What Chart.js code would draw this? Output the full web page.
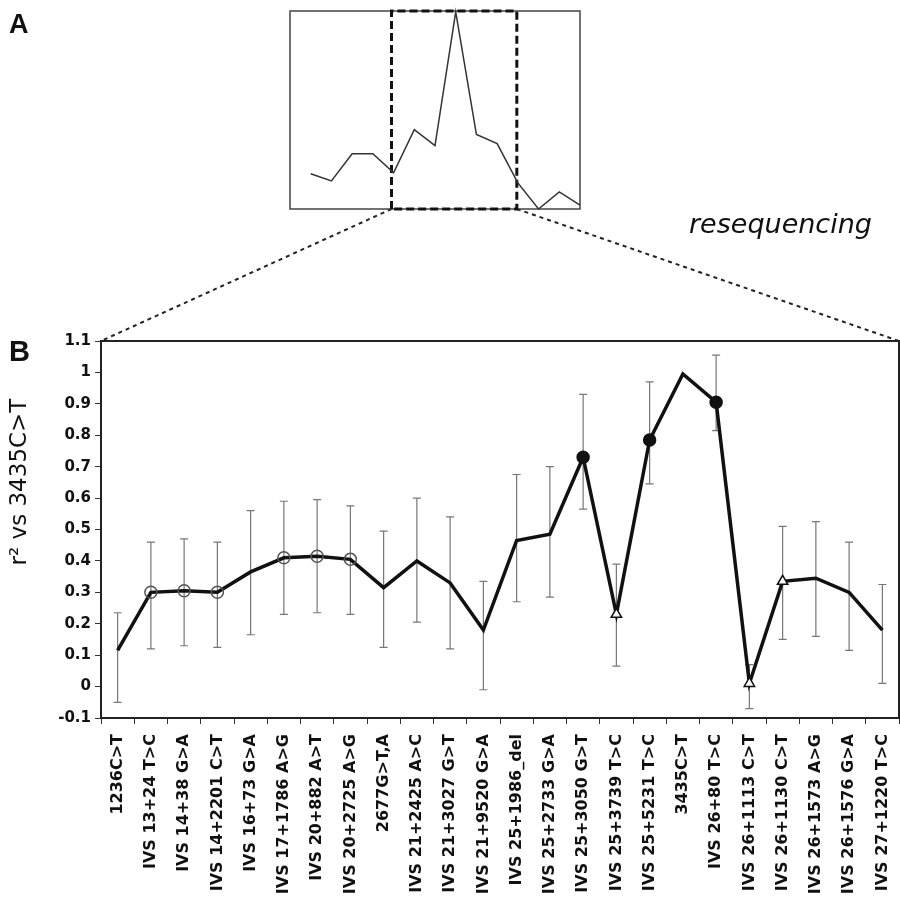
<!DOCTYPE html>
<html>
<head>
<meta charset="utf-8">
<script src="https://cdn.jsdelivr.net/npm/chart.js@4.4.1/dist/chart.umd.min.js"></script>
<style>
  body { margin: 0; background: #fff; overflow: hidden; }
  #wrap { position: relative; width: 900px; height: 897px; }
  #main { position: absolute; left: 0; top: 0; }
  #inset { position: absolute; left: 286px; top: 7px; }
</style>
</head>
<body>
<div id="wrap">
  <canvas id="main" width="900" height="897"></canvas>
  <canvas id="inset" width="298" height="206"></canvas>
</div>
<script>
// panel B: markers along the region
const labels = ['1236C>T', 'IVS 13+24 T>C', 'IVS 14+38 G>A', 'IVS 14+2201 C>T', 'IVS 16+73 G>A',
  'IVS 17+1786 A>G', 'IVS 20+882 A>T', 'IVS 20+2725 A>G', '2677G>T,A', 'IVS 21+2425 A>C',
  'IVS 21+3027 G>T', 'IVS 21+9520 G>A', 'IVS 25+1986_del', 'IVS 25+2733 G>A', 'IVS 25+3050 G>T',
  'IVS 25+3739 T>C', 'IVS 25+5231 T>C', '3435C>T', 'IVS 26+80 T>C', 'IVS 26+1113 C>T',
  'IVS 26+1130 C>T', 'IVS 26+1573 A>G', 'IVS 26+1576 G>A', 'IVS 27+1220 T>C'];
const r2 = [0.115, 0.30, 0.305, 0.30, 0.365, 0.41, 0.415, 0.405, 0.315, 0.40, 0.33, 0.18,
  0.465, 0.485, 0.73, 0.23, 0.785, 0.995, 0.905, 0.01, 0.335, 0.345, 0.30, 0.18];
const errHigh = [0.235, 0.46, 0.47, 0.46, 0.56, 0.59, 0.595, 0.575, 0.495, 0.60, 0.54, 0.335,
  0.675, 0.70, 0.93, 0.39, 0.97, null, 1.055, 0.07, 0.51, 0.525, 0.46, 0.325];
const errLow = [-0.05, 0.12, 0.13, 0.125, 0.165, 0.23, 0.235, 0.23, 0.125, 0.205, 0.12, -0.01,
  0.27, 0.285, 0.565, 0.065, 0.645, null, 0.815, -0.07, 0.15, 0.16, 0.115, 0.01];
const markers = ['none', 'circle', 'circle', 'circle', 'none', 'circle', 'circle', 'circle', 'none', 'none',
  'none', 'none', 'none', 'none', 'dot', 'triangle', 'dot', 'none', 'dot', 'triangle',
  'triangle', 'none', 'none', 'none'];
const yTicks = [-0.1, 1.1, 0.1]; // min, max, step

// panel A: whole resequencing region
const insetX = [1, 2, 3, 4, 5, 6, 7, 8, 9, 10, 11, 12, 13, 14];
const insetY = [0.178, 0.142, 0.279, 0.279, 0.183, 0.401, 0.320, 0.995, 0.376, 0.330, 0.132, 0.0, 0.086, 0.020];
const zoomFrom = 4.9, zoomTo = 10.95;

Chart.defaults.animation = false;
Chart.defaults.font.family = 'DejaVu Sans';

const insetBox = {
  id: 'insetBox',
  beforeDatasetsDraw(chart) {
    const a = chart.chartArea, c = chart.ctx;
    c.save();
    c.strokeStyle = '#444';
    c.lineWidth = 1.5;
    c.strokeRect(a.left, a.top, a.right - a.left, a.bottom - a.top);
    c.restore();
  }
};

const inset = new Chart(document.getElementById('inset'), {
  type: 'scatter',
  data: {
    datasets: [{
      data: insetX.map((x, i) => ({x: x, y: insetY[i]})),
      showLine: true, borderColor: '#333', borderWidth: 1.5, pointRadius: 0, clip: false
    }, {
      data: [{x: zoomFrom, y: 0}, {x: zoomFrom, y: 1}, {x: zoomTo, y: 1}, {x: zoomTo, y: 0}, {x: zoomFrom, y: 0}],
      showLine: true, borderColor: '#111', borderWidth: 3, borderDash: [8, 4], pointRadius: 0, clip: false
    }]
  },
  options: {
    responsive: false,
    layout: {padding: 4},
    plugins: {legend: {display: false}, tooltip: {enabled: false}},
    scales: {
      x: {type: 'linear', min: 0, max: 14, display: false},
      y: {min: 0, max: 1, display: false}
    }
  },
  plugins: [insetBox]
});

const mainDeco = {
  id: 'mainDeco',
  beforeDatasetsDraw(chart) {
    const c = chart.ctx, x = chart.scales.x, y = chart.scales.y;
    c.save();
    c.strokeStyle = '#777';
    c.lineWidth = 1.2;
    r2.forEach((v, i) => {
      if (errHigh[i] === null) return;
      const px = x.getPixelForValue(i);
      const top = y.getPixelForValue(errHigh[i]), bot = y.getPixelForValue(errLow[i]);
      c.beginPath();
      c.moveTo(px, top); c.lineTo(px, bot);
      c.moveTo(px - 4, top); c.lineTo(px + 4, top);
      c.moveTo(px - 4, bot); c.lineTo(px + 4, bot);
      c.stroke();
    });
    c.restore();
  },
  afterDraw(chart) {
    const c = chart.ctx, a = chart.chartArea;
    c.save();
    // frame top and right
    c.strokeStyle = '#222';
    c.lineWidth = 2;
    c.beginPath();
    c.moveTo(a.left, a.top); c.lineTo(a.right, a.top); c.lineTo(a.right, a.bottom);
    c.stroke();
    // zoom lines from inset box
    const ox = 286, oy = 7;
    const ix1 = inset.scales.x.getPixelForValue(zoomFrom) + ox;
    const ix2 = inset.scales.x.getPixelForValue(zoomTo) + ox;
    const iy = inset.scales.y.getPixelForValue(0) + oy;
    c.strokeStyle = '#222';
    c.lineWidth = 2;
    c.setLineDash([4, 4]);
    c.beginPath();
    c.moveTo(ix1, iy); c.lineTo(a.left, a.top);
    c.moveTo(ix2, iy); c.lineTo(a.right, a.top);
    c.stroke();
    c.setLineDash([]);
    // texts
    c.fillStyle = '#111';
    c.font = 'bold 27px "Liberation Sans"';
    c.textBaseline = 'alphabetic';
    c.fillText('A', 9, 33);
    c.font = 'bold 29px "Liberation Sans"';
    c.fillText('B', 9, 361);
    c.font = 'italic 27px "DejaVu Sans"';
    c.fillText('resequencing', 689, 233);
    c.translate(20, 482);
    c.rotate(-Math.PI / 2);
    c.textAlign = 'center';
    c.textBaseline = 'middle';
    c.font = '23px "DejaVu Sans"';
    c.fillText('r\u00B2 vs 3435C>T', 0, 0);
    c.restore();
  }
};

const pointStyles = markers.map(m => m === 'triangle' ? 'triangle' : 'circle');
const pointRadii = markers.map(m => m === 'none' ? 0 : 6);
const pointFills = markers.map(m => m === 'dot' ? '#111' : (m === 'triangle' ? '#fff' : 'rgba(0,0,0,0)'));
const pointBorders = markers.map(m => m === 'circle' ? '#555' : '#111');

new Chart(document.getElementById('main'), {
  type: 'line',
  data: {
    labels: labels,
    datasets: [{
      data: r2,
      borderColor: '#111',
      borderWidth: 3.5,
      tension: 0,
      pointStyle: pointStyles,
      pointRadius: pointRadii,
      pointBackgroundColor: pointFills,
      pointBorderColor: pointBorders,
      pointBorderWidth: 1.5
    }]
  },
  options: {
    responsive: false,
    layout: {padding: {left: 0, top: 341, right: 1, bottom: 0}},
    plugins: {legend: {display: false}, tooltip: {enabled: false}},
    scales: {
      x: {
        offset: true,
        grid: {offset: true, drawOnChartArea: false, drawTicks: true, tickLength: 6, color: '#333'},
        border: {color: '#222', width: 2},
        ticks: {
          autoSkip: false, minRotation: 90, maxRotation: 90, padding: 10,
          color: '#111', font: {size: 16, weight: 'bold'}
        },
        afterFit(scale) { scale.height = 179; scale.paddingLeft = 0; scale.paddingRight = 0; }
      },
      y: {
        min: yTicks[0], max: yTicks[1],
        grid: {drawOnChartArea: false, drawTicks: true, tickLength: 6, color: '#333'},
        border: {color: '#222', width: 2},
        ticks: {
          stepSize: yTicks[2], padding: 4, color: '#111',
          font: {size: 15, weight: 'bold'},
          callback: v => String(Math.round(v * 10) / 10)
        },
        afterFit(scale) { scale.width = 101; scale.paddingTop = 0; scale.paddingBottom = 0; }
      }
    }
  },
  plugins: [mainDeco]
});
</script>
</body>
</html>
